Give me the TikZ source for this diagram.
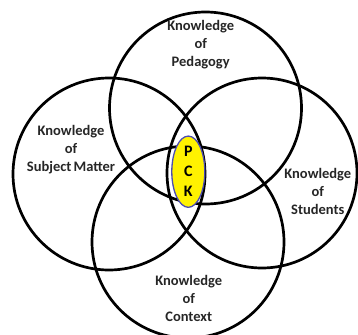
\documentclass[tikz,border=0pt]{standalone}
\usepackage{fontspec}
\setmainfont{Carlito}
\usetikzlibrary{shapes.geometric}

\begin{document}
\begin{tikzpicture}[x=1pt,y=-1pt,
  ring/.style={line width=2.7pt},
  lbl/.style={align=center,inner sep=0pt,text=black!85,font=\bfseries\fontsize{14.5}{18}\selectfont},
  pck/.style={ellipse,fill=yellow,draw=blue!40!gray,line width=1.3pt,
    minimum width=33pt,minimum height=60pt,inner sep=0pt,align=center,
    font=\bfseries\fontsize{16}{20}\selectfont}]
\useasboundingbox (0,0) rectangle (358,334);
\clip (0,0) rectangle (358,334);

\draw[ring] (205.5,108) circle (96);
\draw[ring] (109,174) circle (96);
\draw[ring] (262,173) circle (95);
\draw[ring] (188,242) circle (96);

\node[lbl] (ped) at (200.7,45) {Knowledge\\of\\Pedagogy};
\node[lbl] (sub) at (71,150) {Knowledge\\of\\Subject\hspace{0.15em}Matter};
\node[lbl] (stu) at (317.8,191) {Knowledge\\of\\Students};
\node[lbl] (con) at (188.7,298) {Knowledge\\of\\Context};

\node[pck] (core) at (188.3,171.7) {P\\C\\K};
\end{tikzpicture}
\end{document}
